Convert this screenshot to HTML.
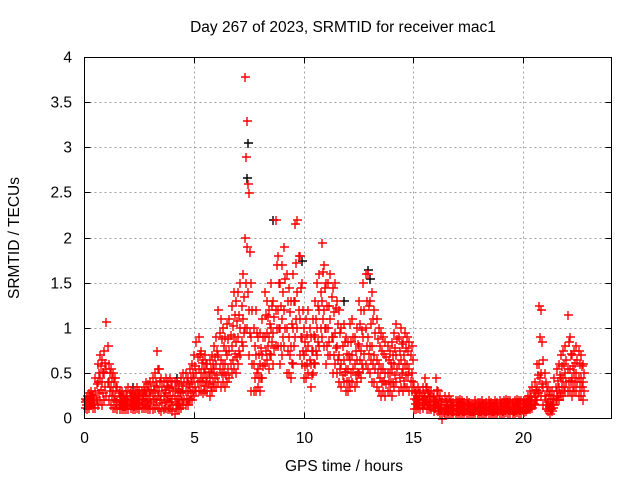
<!DOCTYPE html>
<html><head><meta charset="utf-8"><style>
body{margin:0;background:#fff;}
svg text{font-family:"Liberation Sans",sans-serif;font-size:15.5px;fill:#000;}
</style></head><body>
<svg id="chart" width="640" height="480" xmlns="http://www.w3.org/2000/svg">
<text x="343" y="32" text-anchor="middle">Day 267 of 2023, SRMTID for receiver mac1</text>
<text x="344" y="471" text-anchor="middle">GPS time / hours</text>
<text transform="translate(19,238) rotate(-90)" text-anchor="middle">SRMTID / TECUs</text>
<g id="grid"></g><g id="ticks"></g><g id="marks"></g>
<rect x="84.5" y="57.5" width="527" height="361" fill="none" stroke="#000" stroke-width="1"/>
</svg>
<script>
const xTicks=[0,5,10,15,20];
const yTicks=[0,0.5,1,1.5,2,2.5,3,3.5,4];
const yTickLabels=["0","0.5","1","1.5","2","2.5","3","3.5","4"];
const t0=0, dt=0.1;
const redHi=[.22,.25,.28,.3,.26,.45,.6,.7,.65,.75, 1.07,.6,.55,.5,.45,.35,.3,.3,.25,.3, .35,.3,.28,.3,.35,.32,.3,.35,.4,.38, .4,.45,.5,.75,.55,.45,.4,.45,.42,.45, .4,.42,.4,.38,.45,.5,.5,.45,.55,.6, .7,.85,.9,.75,.65,.7,.6,.65,.7,.8, .9,1.2,1.1,1.0,.9,1.05,1.1,1.25,1.4,1.3, 1.4,1.5,1.6,3.78,3.3,2.5,1.5,1.0,1.2,.9, .95,1.1,1.4,1.3,1.2,1.5,1.3,2.2,1.8,1.5, 1.7,1.9,1.6,1.45,1.3,1.6,2.15,2.2,1.8,1.5, 1.0,1.1,1.2,.9,1.1,1.3,1.5,1.6,1.95,1.7, 1.5,1.5,1.6,1.45,1.5,1.3,1.2,1.0,1.05,.9, .85,1.05,1.1,.9,1.0,1.3,1.2,1.5,1.6,1.6, 1.3,1.4,1.2,1.1,1.0,.95,.9,.85,.8,.75, .85,.95,1.05,.9,1.0,.85,.95,.9,.85,.8, .35,.3,.35,.3,.35,.45,.35,.3,.3,.25, .45,.3,.25,.2,.25,.2,.25,.2,.18,.2, .2,.22,.2,.18,.2,.18,.15,.16,.2,.18, .18,.2,.17,.18,.2,.18,.17,.2,.18,.2, .18,.2,.22,.2,.2,.18,.2,.22,.2,.2, .2,.22,.25,.3,.35,.4,.6,1.25,1.2,.65, .4,.35,.3,.3,.45,.55,.6,.7,.75,.8, 1.15,.9,.7,.75,.8,.75,.7,.6];
const redMid=[.18,.2,.22,.2,.2,.3,.4,.45,.4,.5, .55,.4,.35,.3,.25,.2,.2,.18,.18,.2, .2,.2,.18,.2,.22,.2,.2,.25,.25,.22, .25,.28,.3,.35,.3,.25,.25,.28,.25,.25, .22,.25,.22,.2,.28,.3,.3,.3,.35,.4, .45,.5,.55,.5,.45,.5,.45,.45,.5,.55, .6,.7,.65,.6,.6,.7,.75,.8,.9,.85, .9,1.0,1.1,2.0,1.9,1.2,.9,.6,.7,.55, .6,.7,.9,.95,.9,1.0,.95,1.2,1.2,1.0, 1.1,1.2,1.0,.9,.8,1.0,1.3,1.4,1.1,.9, .7,.75,.8,.6,.75,.9,1.0,1.2,1.3,1.2, 1.0,1.0,1.1,.9,.95,.8,.7,.6,.65,.55, .55,.65,.7,.6,.65,.8,.75,.9,1.0,.9, .8,.8,.7,.65,.6,.55,.55,.5,.5,.5, .55,.6,.7,.6,.65,.55,.6,.6,.55,.5, .22,.2,.22,.2,.22,.25,.2,.18,.18,.15, .2,.15,.12,.1,.12,.1,.12,.1,.1,.1, .1,.12,.1,.1,.12,.1,.1,.1,.12,.1, .1,.12,.1,.1,.12,.1,.1,.12,.1,.12, .1,.12,.13,.12,.12,.1,.12,.13,.12,.12, .12,.14,.15,.18,.2,.25,.35,.6,.5,.35, .2,.18,.15,.15,.25,.3,.35,.45,.45,.5, .55,.55,.45,.5,.5,.45,.45,.4];
const redLo=[.12,.1,.12,.15,.12,.12,.15,.2,.15,.2, .25,.2,.15,.12,.12,.1,.1,.1,.1,.1, .1,.12,.1,.1,.12,.1,.12,.12,.12,.1, .1,.1,.12,.15,.1,.08,.1,.12,.1,.1, .08,.05,.1,.1,.12,.15,.15,.15,.2,.2, .25,.3,.3,.3,.28,.3,.3,.25,.3,.35, .35,.4,.35,.4,.35,.4,.45,.5,.55,.5, .6,.7,.8,1.0,1.0,.7,.3,.3,.3,.35, .3,.45,.6,.65,.55,.7,.6,.8,.8,.6, .7,.8,.5,.5,.45,.6,.9,1.0,.7,.6, .45,.45,.5,.35,.5,.6,.7,.8,.9,.8, .6,.7,.7,.5,.6,.5,.4,.35,.4,.3, .3,.35,.4,.35,.4,.5,.45,.55,.6,.55, .5,.4,.4,.35,.3,.25,.3,.25,.3,.3, .25,.35,.4,.3,.35,.3,.35,.35,.3,.3, .1,.1,.12,.1,.12,.15,.1,.1,.1,.08, .12,.08,.05,0,.05,.05,.06,.05,.05,.05, .05,.06,.05,.05,.06,.05,.05,.05,.06,.05, .05,.06,.05,.05,.06,.05,.05,.06,.05,.06, .06,.06,.07,.06,.06,.05,.06,.07,.06,.06, .07,.08,.1,.1,.12,.15,.2,.3,.25,.15, .1,.08,.05,.08,.15,.2,.2,.25,.25,.3, .3,.3,.25,.3,.3,.25,.25,.2];
const redQ1=[.15,.15,.17,.18,.16,.2,.28,.32,.28,.35, .4,.3,.25,.2,.18,.15,.15,.14,.14,.15, .15,.16,.14,.15,.17,.15,.16,.18,.18,.16, .18,.2,.22,.25,.2,.17,.18,.2,.18,.18, .15,.15,.16,.15,.2,.22,.22,.22,.28,.3, .35,.4,.42,.4,.36,.4,.38,.35,.4,.45, .48,.55,.5,.5,.48,.55,.6,.65,.72,.68, .75,.85,.95,1.5,1.4,.95,.6,.45,.5,.45, .45,.58,.75,.8,.72,.85,.78,1.0,1.0,.8, .9,1.0,.75,.7,.62,.8,1.1,1.2,.9,.75, .58,.6,.65,.48,.62,.75,.85,1.0,1.1,1.0, .8,.85,.9,.7,.78,.65,.55,.48,.52,.42, .42,.5,.55,.48,.52,.65,.6,.72,.8,.72, .65,.6,.55,.5,.45,.4,.42,.38,.4,.4, .4,.48,.55,.45,.5,.42,.48,.48,.42,.4, .16,.15,.17,.15,.17,.2,.15,.14,.14,.12, .16,.12,.09,.07,.09,.08,.09,.08,.08,.08, .08,.09,.08,.08,.09,.08,.08,.08,.09,.08, .08,.09,.08,.08,.09,.08,.08,.09,.08,.09, .08,.09,.1,.09,.09,.08,.09,.1,.09,.09, .1,.11,.12,.14,.16,.2,.28,.45,.38,.25, .15,.13,.1,.12,.2,.25,.28,.35,.35,.4, .42,.42,.35,.4,.4,.35,.35,.3];
const redQ3=[.2,.22,.25,.25,.23,.38,.5,.58,.52,.62, .8,.5,.45,.4,.35,.28,.25,.24,.22,.25, .28,.25,.23,.25,.28,.26,.25,.3,.32,.3, .32,.36,.4,.55,.42,.35,.32,.36,.34,.35, .31,.33,.31,.29,.36,.4,.4,.38,.45,.5, .58,.68,.72,.62,.55,.6,.52,.55,.6,.68, .75,.95,.88,.8,.75,.88,.92,1.02,1.15,1.08, 1.15,1.25,1.35,2.9,2.6,1.85,1.2,.8,.95,.72, .78,.9,1.15,1.12,1.05,1.25,1.12,1.7,1.5,1.25, 1.4,1.55,1.3,1.18,1.05,1.3,1.72,1.8,1.45,1.2, .85,.92,1.0,.75,.92,1.1,1.25,1.4,1.62,1.45, 1.25,1.25,1.35,1.18,1.22,1.05,.95,.8,.85,.72, .7,.85,.9,.75,.82,1.05,.98,1.2,1.3,1.25, 1.05,1.1,.95,.88,.8,.75,.72,.68,.65,.62, .7,.78,.88,.75,.82,.7,.78,.75,.7,.65, .28,.25,.28,.25,.28,.35,.28,.24,.24,.2, .32,.22,.18,.15,.18,.15,.18,.15,.14,.15, .15,.17,.15,.14,.16,.14,.12,.13,.16,.14, .14,.16,.13,.14,.16,.14,.13,.16,.14,.16, .14,.16,.18,.16,.16,.14,.16,.18,.16,.16, .16,.18,.2,.24,.28,.32,.48,.9,.85,.5, .3,.26,.22,.22,.35,.42,.48,.58,.6,.65, .85,.72,.58,.62,.65,.6,.58,.5];
const blackTimes=[7.45,7.42,8.6,12.9,13.0,4.2,2.2,9.9,11.8];
const blackValues=[3.05,2.67,2.2,1.64,1.55,0.45,0.35,1.75,1.3];

const X0=84.5,X1=611.5,Y0=418.5,Y1=57.5,XMAX=24,YMAX=4;
const xs=v=>X0+v/XMAX*(X1-X0);
const ys=v=>Y0-v/YMAX*(Y0-Y1);
const NS="http://www.w3.org/2000/svg";
const grid=document.getElementById('grid'),ticks=document.getElementById('ticks'),marks=document.getElementById('marks');
function mk(tag,attrs,parent){const e=document.createElementNS(NS,tag);for(const k in attrs)e.setAttribute(k,attrs[k]);parent.appendChild(e);return e;}
yTicks.forEach((v,i)=>{
  const y=Math.round(ys(v)-0.5)+0.5;
  if(v>0&&v<YMAX){const g=mk('line',{x1:X0,x2:X1,y1:y,y2:y,stroke:'#a0a0a0','stroke-dasharray':'2,3'},grid);
  
  }
  mk('line',{x1:X0,x2:X0+6,y1:y,y2:y,stroke:'#000'},ticks);
  mk('line',{x1:X1-6,x2:X1,y1:y,y2:y,stroke:'#000'},ticks);
  const t=mk('text',{x:72,y:y+5,'text-anchor':'end'},ticks);t.textContent=yTickLabels[i];
  
  
});
xTicks.forEach(v=>{
  const x=Math.round(xs(v)-0.5)+0.5;
  if(v>0){const g=mk('line',{x1:x,x2:x,y1:Y0,y2:Y1,stroke:'#a0a0a0','stroke-dasharray':'2,3'},grid);
  
  }
  mk('line',{x1:x,x2:x,y1:Y0,y2:Y0-6,stroke:'#000'},ticks);
  mk('line',{x1:x,x2:x,y1:Y1,y2:Y1+6,stroke:'#000'},ticks);
  const t=mk('text',{x:x,y:443,'text-anchor':'middle'},ticks);t.textContent=String(v);
  
  
});
function plus(t,v,color,name){
  const x=Math.round(xs(t)),y=Math.round(ys(v));
  const p=mk('path',{d:`M${x-4},${y}H${x+5}M${x},${y-4}V${y+5}`,stroke:color,'stroke-width':1.4,fill:'none'},marks);
  
  
}
blackTimes.forEach((t,i)=>plus(t,blackValues[i],'#000','black-point'));
[redLo,redMid,redHi].forEach(arr=>arr.forEach((v,i)=>plus(t0+i*dt,v,'#ff0000','red-point')));
[redQ1,redQ3].forEach(arr=>arr.forEach((v,i)=>plus(t0+i*dt+dt/2,v,'#ff0000','red-point')));
</script>
</body></html>
